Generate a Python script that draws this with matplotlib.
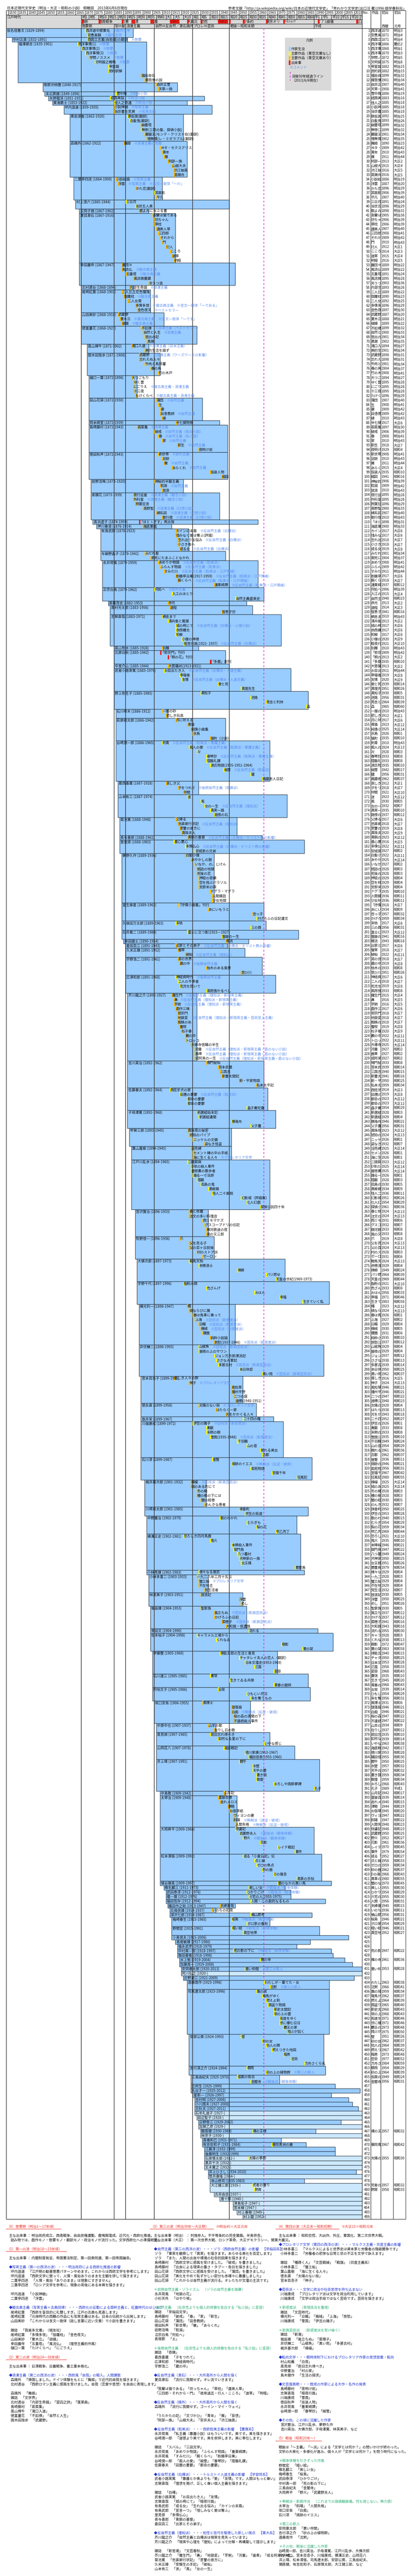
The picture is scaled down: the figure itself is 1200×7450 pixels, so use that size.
import matplotlib
matplotlib.use("Agg")
import matplotlib.pyplot as plt
from matplotlib.patches import Rectangle
from matplotlib.lines import Line2D
from matplotlib.transforms import Bbox, TransformedBbox

plt.rcParams['font.family'] = ['Noto Sans CJK JP', 'DejaVu Sans']

# ---------------------------------------------------------------- header data
TITLE = "日本近現代文学史（明治・大正・昭和の小説） 俯瞰図　2013年6月6日現在"
SOURCE = "参考文献「http://ja.wikipedia.org/wiki/日本の近現代文学史」「早わかり文学史(出口汪 著)1996 語学春秋社」"

YEAR_TICKS = list(range(1830, 2015, 5))

ERA_LABELS = ["明1", "明5", "明10", "明15", "明20", "明25", "明30", "明35", "明40",
              "大1", "大5", "大10", "昭1", "昭5", "昭10", "昭15", "昭20", "昭25",
              "昭30", "昭35", "昭40", "昭45", "昭50", "昭55", "昭60",
              "平1", "平5", "平10", "平15", "平20", "平25"]
ERA_STARTS = [1868, 1872, 1877, 1882, 1887, 1892, 1897, 1902, 1907,
              1912, 1916, 1921, 1926, 1930, 1935, 1940, 1945, 1950,
              1955, 1960, 1965, 1970, 1975, 1980, 1985,
              1989, 1993, 1998, 2003, 2008, 2013]

EVENT_LABELS = ["維新", "西南戦争", "立憲", "日清", "日露", "WW1", "大震災", "恐慌",
                "WW2", "", "サ条約", "東京オリ", "ｵｲﾙｼｮｯｸ", "ﾊﾞﾌﾞﾙ崩壊", "311"]
EVENT_START = [1868, 1877, 1889, 1894, 1904, 1914, 1923, 1930,
               1939, 1945.1, 1952, 1964, 1973, 1991, 2011]
EVENT_END = [1869, 1878, 1890, 1896, 1906, 1919, 1924, 1931,
             1944.5, 1945.7, 1953, 1965, 1974, 1992, 2012]

PERIOD_LABELS = ["啓蒙期", "写⇔擬古", "浪漫主義", "自然⇔反自然／漱石鴎外",
                 "プロレ⇔芸術", "戦後～昭和末期", "平成"]
PERIOD_BOUNDS = [1868, 1885, 1891, 1906, 1926, 1945, 1989, 2014.05]
DIVIDERS = [1868, 1885, 1891, 1906, 1926, 1945]
FIFTY_YEAR_LINE = 1963

# ---------------------------------------------------------------- authors
AUTHORS = [
    "仮名垣魯文", "中村正直", "福澤諭吉", "塚原渋柿園", "末広鉄腸", "矢野龍渓", "東海散士", "坪内逍遥", "黒岩涙香", "森鴎外",
    "二葉亭四迷", "村上浪六", "正岡子規", "夏目漱石", "幸田露伴", "北村透谷", "尾崎紅葉", "山田美妙", "徳冨蘆花", "高山樗牛",
    "国木田独歩", "樋口一葉", "田山花袋", "岡本綺堂", "島崎藤村", "徳田秋声", "岩野泡鳴", "泉鏡花", "高浜虚子", "押川春浪",
    "有島武郎", "与謝野晶子", "永井荷風", "正宗白鳥", "斎藤茂吉", "高村光太郎", "志賀直哉", "若山牧水", "北原白秋", "中里介山",
    "武者小路実篤", "野上弥生子", "石川啄木", "萩原朔太郎", "谷崎潤一郎", "葛西善蔵", "山本有三", "菊池寛", "長与善郎", "里見弴",
    "夢野久作", "室生犀星", "久保田万太郎", "白井喬二", "岸田國士", "倉田百三", "久米正雄", "宇野浩二", "広津和郎", "芥川龍之介",
    "吉川英治", "佐藤春夫", "子母澤寛", "甲賀三郎", "葉山嘉樹", "江戸川乱歩", "宮沢賢治", "牧野信一", "大佛次郎", "宇野千代",
    "横光利一", "井伏鱒二", "宮本百合子", "徳永直", "壺井栄", "川端康成", "石川淳", "梶井基次郎", "川崎長太郎", "中野重治",
    "横溝正史", "小林秀雄", "小林多喜二", "林芙美子", "堀辰雄", "幸田文", "佐多稲子", "伊藤整", "石川達三", "円地文子",
    "坂口安吾", "中原中也", "高見順", "山岡荘八", "井上靖", "中島敦", "太宰治", "大岡昇平", "松本清張", "埴谷雄高",
    "椎名麟三", "武田泰淳", "檀一雄", "福田恆存", "織田作之助", "北條民雄", "深沢七郎", "梅崎春生", "野間宏", "小島信夫",
    "島尾敏雄", "福永武彦", "中村真一郎", "堀田善衛", "水上勉", "加藤周一", "安岡章太郎", "阿川弘之", "庄野潤三", "遠藤周作",
    "司馬遼太郎", "安部公房", "吉行淳之介", "三島由紀夫", "辻邦生", "丸谷才一", "星新一", "吉村昭", "小川国夫", "北杜夫",
    "石牟礼道子", "田辺聖子", "日野啓三", "加賀乙彦", "開高健", "林京子", "高橋和巳", "有吉佐和子", "江藤淳", "後藤明生",
    "石原慎太郎", "黒井千次", "五木寛之", "井上ひさし", "筒井康隆", "寺山修司", "大江健三郎", "古井由吉", "唐十郎", "津島佑子",
    "宮本輝", "村上春樹", "村上龍",
]
BORN = [
    1829, 1832, 1835, 1848, 1849, 1851, 1853, 1859, 1862, 1862,
    1864, 1865, 1867, 1867, 1867, 1868, 1868, 1868, 1868, 1871,
    1871, 1872, 1872, 1872, 1872, 1872, 1873, 1873, 1874, 1876,
    1878, 1878, 1879, 1879, 1882, 1883, 1883, 1885, 1885, 1885,
    1885, 1885, 1886, 1886, 1886, 1887, 1887, 1888, 1888, 1888,
    1889, 1889, 1889, 1889, 1890, 1891, 1891, 1891, 1891, 1892,
    1892, 1892, 1892, 1893, 1894, 1894, 1896, 1896, 1897, 1897,
    1898, 1898, 1899, 1899, 1899, 1899, 1899, 1901, 1901, 1902,
    1902, 1902, 1903, 1903, 1904, 1904, 1904, 1905, 1905, 1905,
    1906, 1907, 1907, 1907, 1907, 1909, 1909, 1909, 1909, 1909,
    1911, 1912, 1912, 1912, 1913, 1914, 1914, 1915, 1915, 1915,
    1917, 1918, 1918, 1918, 1919, 1919, 1920, 1920, 1921, 1923,
    1923, 1924, 1924, 1925, 1925, 1925, 1926, 1927, 1927, 1927,
    1927, 1928, 1929, 1929, 1930, 1930, 1931, 1931, 1932, 1932,
    1932, 1932, 1932, 1934, 1934, 1935, 1935, 1937, 1940, 1947,
    1947, 1949, 1952,
]
DIED = [
    1894, 1891, 1901, 1917, 1896, 1931, 1922, 1935, 1920, 1922,
    1909, 1944, 1902, 1916, 1947, 1894, 1903, 1910, 1927, 1902,
    1908, 1896, 1930, 1939, 1943, 1943, 1920, 1939, 1959, 1914,
    1923, 1942, 1959, 1962, 1953, 1956, 1971, 1928, 1942, 1944,
    1976, 1985, 1912, 1942, 1965, 1928, 1974, 1948, 1961, 1983,
    1936, 1962, 1963, 1980, 1954, 1943, 1952, 1961, 1968, 1927,
    1962, 1964, 1968, 1945, 1945, 1965, 1933, 1936, 1973, 1996,
    1947, 1993, 1951, 1958, 1967, 1972, 1987, 1932, 1985, 1979,
    1981, 1983, 1933, 1951, 1953, 1990, 1998, 1969, 1985, 1986,
    1955, 1937, 1965, 1978, 1991, 1942, 1948, 1988, 1992, 1997,
    1973, 1976, 1976, 1994, 1947, 1937, 1987, 1965, 1991, 2006,
    1986, 1979, 1997, 1998, 2004, 2008, 2013, None, 2009, 1996,
    1996, 1993, 1994, 1970, 1999, 2012, 1997, 2006, 2008, 2011,
    None, None, 2002, None, 1989, None, 1971, 1984, 1999, 1999,
    None, None, None, 2010, None, 1983, None, None, None, None,
    None, None, None,
]

# ---------------------------------------------------------------- works (one list per author)
WORK_TITLES = [
    ["西洋道中膝栗毛", "安愚楽鍋"],
    ["西国立志篇(自助論)の翻訳"],
    ["西洋事情(1)", "西洋事情(2)", "西洋事情(3)", "学問ノススメ", "文明論之概略", "帝室論", "民約訳解", "福翁自伝", "瘠我慢の説"],
    ["由井正雪", "天草一揆"],
    ["雪中梅"],
    ["経国美談"],
    ["佳人之奇遇"],
    ["小説神髄", "当世書生気質"],
    ["鉄仮面(翻訳)", "白髪鬼(翻訳)", "幽霊塔", "無惨(三筋の髪、探偵小説)", "巌窟王(モンテ・クリスト伯)(翻訳)", "噫無情(レ・ミゼラブル)(翻訳)"],
    ["舞姫", "ヰタ・セクスアリス", "青年", "雁", "阿部一族", "山椒大夫", "渋江抽斎", "高瀬舟"],
    ["小説総論", "浮雲", "かた恋(翻訳)", "其面影", "平凡"],
    ["三日月", "当世五人男"],
    ["歌よみに与ふる書"],
    ["吾輩は猫である", "坊ちゃん", "草枕", "虞美人草", "三四郎", "それから", "門", "行人", "こころ", "道草", "明暗"],
    ["露団々", "風流仏", "五重塔", "風流微塵蔵", "天うつ浪"],
    ["内部生命論"],
    ["二人比丘尼色懺悔", "伽羅枕", "二人女房", "多情多恨", "金色夜叉"],
    ["武蔵野", "夏木立", "蝴蝶"],
    ["不如帰", "自然と人生", "思出の記", "黒潮"],
    ["滝口入道", "美的生活を論ず"],
    ["武蔵野", "忘れえぬ人々", "牛肉と馬鈴薯", "春の鳥", "竹の木戸"],
    ["大つごもり", "ゆく雲", "にごりえ", "十三夜", "たけくらべ"],
    ["蒲団", "生", "妻", "田舎教師", "縁"],
    ["半七捕物帳"],
    ["若菜集", "破戒", "春", "家", "新生", "夜明け前"],
    ["新世帯", "足跡", "黴", "あらくれ", "仮装人物", "縮図"],
    ["神秘的半獣主義", "耽溺", "放浪"],
    ["夜行巡査", "外科室", "照葉狂言", "高野聖", "婦系図", "歌行燈"],
    ["「ほとゝぎす」再出発"],
    ["海底軍艦"],
    ["カインの末裔", "惜みなく愛は奪ふ(評論)", "生れ出づる悩み", "小さき者へ", "或る女"],
    ["みだれ髪", "君死にたまふことなかれ"],
    ["あめりか物語", "ふらんす物語", "すみだ川", "断腸亭日乗(1917-1959)", "腕くらべ", "濹東綺譚"],
    ["何処へ", "入江のほとり", "自然主義盛衰史"],
    ["赤光"],
    ["道程", "智恵子抄"],
    ["網走まで", "清兵衛と瓢箪", "城の崎にて", "赤西蠣太", "和解", "小僧の神様", "暗夜行路(1921- 1937)"],
    ["別離"],
    ["「邪宗門」刊行", "「桐の花」刊行", "「多磨」創刊"],
    ["大菩薩峠(1913-1921)"],
    ["お目出たき人", "幸福者", "友情", "愛と死", "真理先生"],
    ["真知子", "迷路", "秀吉と利休", "森"],
    ["一握の砂", "悲しき玩具"],
    ["月に吠える", "青猫", "純情小曲集", "氷島", "猫町（小説）"],
    ["刺青", "痴人の愛", "卍", "春琴抄", "陰翳礼讃", "源氏物語(1935-1951-1964)", "細雪", "鍵", "瘋癲老人日記"],
    ["哀しき父", "子をつれて", "仲間"],
    ["波", "風", "女の一生", "真実一路", "路傍の石"],
    ["父帰る", "忠直卿行状記", "恩讐の彼方に", "真珠夫人"],
    ["青銅の基督"],
    ["善心悪心", "多情仏心", "安城家の兄弟"],
    ["白髪小僧", "あやかしの鼓", "いなか、の、じけん", "瓶詰の地獄", "死後の恋", "押絵の奇蹟", "空を飛ぶパラソル", "支那米の袋", "ドグラ・マグラ", "人間腸詰", "少女地獄"],
    ["「抒情小曲集」刊行", "あにいもうと", "杏っ子", "かげろふの日記遺文"],
    ["末枯", "三の酉"],
    ["富士に立つ影(1923－1927)", "盤嶽の一生"],
    ["暖流"],
    ["出家とその弟子"],
    ["螢草", "破船"],
    ["苦の世界", "蔵の中", "枯木のある風景", "思ひ川"],
    ["神経病時代", "二人の不幸者", "死児を抱いて", "風雨強かるべし"],
    ["羅生門", "鼻", "芋粥", "戯作三昧", "邪宗門", "地獄変", "蜘蛛の糸", "蜜柑", "杜子春", "藪の中", "トロッコ", "大導寺信輔の半生", "河童", "歯車", "或阿呆の一生"],
    ["鳴門秘帖", "宮本武蔵", "三国志", "新書太閤記", "新・平家物語", "私本太平記"],
    ["西班牙犬の家", "田園の憂鬱", "都会の憂鬱", "都会の憂鬱", "晶子曼陀羅"],
    ["新選組始末記", "新選組遺聞", "勝海舟", "父子鷹"],
    ["真珠塔の秘密", "琥珀のパイプ", "ニッケルの文鎮", "姿なき怪盗"],
    ["淫売婦", "セメント樽の中の手紙", "海に生くる人々"],
    ["二銭銅貨", "D坂の殺人事件", "屋根裏の散歩者", "踊る一寸法師", "陰獣", "孤島の鬼", "黒蜥蜴", "怪人二十面相", "幻影城（評論集）", "化人幻戯", "探偵小説四十年"],
    ["春と修羅", "注文の多い料理店", "雨ニモマケズ", "グスコーブドリの伝記", "銀河鉄道の夜", "風の又三郎"],
    ["爪", "父を売る子", "父の百ヶ日前後", "村のストア派", "ゼーロン"],
    ["鞍馬天狗", "赤穂浪士", "帰郷", "パリ燃ゆ", "天皇の世紀(1969-1973)"],
    ["脂粉の顔", "色ざんげ", "おはん", "幸福", "生きていく私"],
    ["蠅", "頭ならびに腹", "春は馬車に乗って", "上海", "日輪", "機械", "寝園", "純粋小説論", "旅愁(1937-1946)"],
    ["山椒魚", "屋根の上のサワン", "ジョン万次郎漂流記", "さざなみ軍記", "多甚古村", "本日休診", "黒い雨"],
    ["貧しき人々の群", "伸子", "風知草", "播州平野", "二つの庭", "道標(1948-1951)"],
    ["太陽のない街", "はたらく一家", "光をかかぐる人々"],
    ["二十四の瞳"],
    ["伊豆の踊子", "禽獣", "末期の眼", "雪国(1935-1948)", "千羽鶴", "山の音", "眠れる美女", "古都"],
    ["普賢", "焼跡のイエス", "紫苑物語", "至福千年", "狂風記"],
    ["檸檬", "城のある町にて", "冬の蠅", "櫻の樹の下には", "闇の絵巻", "のんきな患者"],
    ["抹香町", "伊豆の街道"],
    ["歌のわかれ", "むらぎも", "梨の花", "甲乙丙丁"],
    ["恐ろしき四月馬鹿", "鬼火", "本陣殺人事件", "獄門島", "八つ墓村", "犬神家の一族", "女王蜂", "悪霊島"],
    ["様々なる意匠"],
    ["一九二八年三月十五日", "蟹工船", "不在地主", "党生活者"],
    ["放浪記", "浮雲", "めし"],
    ["聖家族", "風立ちぬ", "かげろふの日記", "菜穂子", "大和路・信濃路"],
    ["流れる"],
    ["キャラメル工場から", "くれなゐ", "樹影", "夏の栞"],
    ["得能五郎の生活と意見", "チャタレイ夫人の恋人（翻訳）", "日本文壇史(1953-1969)", "氾濫", "変容"],
    ["蒼氓", "生きてゐる兵隊", "青春の蹉跌"],
    ["女坂", "ひもじい月日", "朱を奪うもの"],
    ["風博士", "堕落論", "白痴", "桜の森の満開の下", "不連続殺人事件"],
    ["山羊の歌", "在りし日の歌"],
    ["故旧忘れ得べき", "如何なる星の下に", "いやな感じ"],
    ["海底戦記", "徳川家康(1953-1967)", "織田信長(1955-1960)"],
    ["闘牛", "氷壁", "天平の甍", "蒼き狼", "敦煌", "おろしや国酔夢譚", "孔子"],
    ["山月記"],
    ["富嶽百景", "走れメロス", "津軽", "お伽草紙", "ヴィヨンの妻", "斜陽", "人間失格"],
    ["俘虜記", "武蔵野夫人", "野火", "花影", "レイテ戦記", "事件"],
    ["或る「小倉日記」伝", "点と線", "ゼロの焦点", "砂の器", "Dの複合", "黒革の手帖"],
    ["闇のなかの黒い馬"],
    ["美しい女"],
    ["ひかりごけ"],
    ["火宅の人(1955-1975)"],
    ["人間・この劇的なるもの"],
    ["夫婦善哉"],
    ["いのちの初夜"],
    ["楢山節考"],
    ["桜島", "ボロ家の春秋"],
    ["暗い絵", "真空地帯"],
    [], [], [],
    ["死の影の下に"],
    [],
    ["雁の寺"],
    [],
    ["悪い仲間"],
    [], [],
    ["わたしが・棄てた・女", "沈黙"],
    ["梟の城", "竜馬がゆく", "燃えよ剣", "国盗り物語", "新史太閤記", "坂の上の雲", "街道をゆく", "世に棲む日日", "覇王の家", "翔ぶが如く"],
    ["壁", "砂の女", "他人の顔", "燃えつきた地図", "箱男", "密会", "方舟さくら丸"],
    ["驟雨", "砂の上の植物群"],
    ["仮面の告白", "金閣寺"],
    [], [], [], [], [], [], [], [], [], [],
    ["裸の王様"],
    [], [],
    ["華岡青洲の妻"],
    [], [],
    ["太陽の季節"],
    [], [], [], [], [],
    ["死者の奢り", "飼育"],
    [], [], [], [], [], [],
]

WORK_YEARS = [
    [1870, 1871],
    [1871],
    [1866, 1868, 1870, 1872, 1875, 1882, 1882, 1899, 1901],
    [1907, 1908],
    [1886],
    [1883],
    [1885],
    [1885, 1885],
    [1892, 1893, 1899, 1899, 1901, 1902],
    [1890, 1909, 1910, 1911, 1913, 1915, 1916, 1916],
    [1886, 1887, 1896, 1906, 1907],
    [1891, 1896],
    [1898],
    [1905, 1906, 1906, 1907, 1908, 1909, 1910, 1912, 1914, 1915, 1916],
    [1889, 1889, 1891, 1895, 1903],
    [1893],
    [1889, 1890, 1892, 1896, 1897],
    [1887, 1888, 1889],
    [1899, 1900, 1901, 1902],
    [1894, 1901],
    [1898, 1898, 1901, 1904, 1908],
    [1894, 1895, 1895, 1895, 1896],
    [1907, 1908, 1909, 1909, 1910],
    [1917],
    [1897, 1906, 1908, 1910, 1918, 1929],
    [1908, 1910, 1911, 1915, 1935, 1941],
    [1906, 1909, 1910],
    [1895, 1895, 1896, 1900, 1907, 1910],
    [1898],
    [1900],
    [1917, 1917, 1918, 1918, 1919],
    [1901, 1904],
    [1908, 1909, 1911, 1917, 1918, 1937],
    [1906, 1915, 1948],
    [1913],
    [1914, 1941],
    [1910, 1913, 1917, 1917, 1917, 1920, 1921],
    [1910],
    [1909, 1913, 1935],
    [1913],
    [1911, 1919, 1920, 1939, 1951],
    [1930, 1956, 1964, 1985],
    [1910, 1912],
    [1917, 1923, 1925, 1926, 1935],
    [1910, 1924, 1928, 1933, 1933, 1935, 1942, 1956, 1962],
    [1912, 1918, 1921],
    [1923, 1930, 1932, 1935, 1937],
    [1917, 1918, 1919, 1920],
    [1923],
    [1916, 1922, 1927],
    [1922, 1925, 1927, 1928, 1928, 1929, 1929, 1929, 1935, 1936, 1936],
    [1918, 1934, 1957, 1959],
    [1917, 1956],
    [1923, 1941],
    [1943],
    [1917],
    [1918, 1922],
    [1918, 1919, 1933, 1951],
    [1917, 1918, 1919, 1933],
    [1915, 1916, 1916, 1917, 1918, 1918, 1918, 1919, 1920, 1922, 1922, 1925, 1927, 1927, 1927],
    [1933, 1939, 1940, 1941, 1950, 1959],
    [1914, 1919, 1923, 1923, 1954],
    [1928, 1929, 1946, 1956],
    [1923, 1924, 1926, 1932],
    [1925, 1926, 1926],
    [1923, 1925, 1925, 1926, 1928, 1930, 1934, 1936, 1951, 1954, 1961],
    [1924, 1924, 1931, 1932, 1933, 1933],
    [1919, 1924, 1924, 1928, 1931],
    [1924, 1929, 1949, 1964, 1969],
    [1921, 1933, 1958, 1971, 1983],
    [1923, 1924, 1926, 1927, 1929, 1930, 1931, 1935, 1937],
    [1929, 1929, 1937, 1938, 1939, 1950, 1962],
    [1916, 1924, 1946, 1946, 1947, 1948],
    [1929, 1938, 1943],
    [1952],
    [1926, 1933, 1933, 1935, 1949, 1954, 1961, 1962],
    [1936, 1946, 1956, 1967, 1980],
    [1925, 1925, 1928, 1928, 1930, 1932],
    [1950, 1953],
    [1940, 1954, 1959, 1969],
    [1921, 1935, 1946, 1947, 1949, 1950, 1951, 1979],
    [1929],
    [1928, 1929, 1929, 1932],
    [1930, 1950, 1951],
    [1930, 1937, 1937, 1941, 1943],
    [1955],
    [1928, 1938, 1972, 1983],
    [1940, 1950, 1953, 1958, 1968],
    [1935, 1945, 1968],
    [1939, 1954, 1956],
    [1931, 1946, 1946, 1947, 1947],
    [1934, 1937],
    [1935, 1939, 1963],
    [1942, 1953, 1955],
    [1950, 1957, 1957, 1959, 1959, 1968, 1989],
    [1942],
    [1939, 1940, 1944, 1945, 1947, 1947, 1948],
    [1948, 1950, 1952, 1961, 1970, 1979],
    [1952, 1958, 1959, 1962, 1968, 1980],
    [1970],
    [1955],
    [1954],
    [1955],
    [1956],
    [1940],
    [1936],
    [1956],
    [1946, 1954],
    [1946, 1952],
    [], [], [],
    [1947],
    [],
    [1961],
    [],
    [1953],
    [], [],
    [1963, 1966],
    [1959, 1962, 1964, 1965, 1968, 1968, 1971, 1971, 1973, 1975],
    [1951, 1962, 1964, 1967, 1973, 1977, 1984],
    [1954, 1964],
    [1949, 1956],
    [], [], [], [], [], [], [], [], [], [],
    [1957],
    [], [],
    [1967],
    [], [],
    [1955],
    [], [], [], [], [],
    [1957, 1958],
    [], [], [], [], [], [],
]

# y = 青空文庫なし, o = 青空文庫あり, r = 出来事
WORK_TONES = [
    "yy", "y", "yyyoyyyoo", "oo", "y", "y", "y", "oo", "yyoyoo", "oooooooo",
    "oooyo", "yy", "o", "ooooooooooo", "ooooo", "o", "ooooo", "ooo", "oooo", "oo",
    "ooooo", "ooooo", "ooooo", "o", "oooooo", "oooooo", "ooo", "oooooo", "r", "o",
    "ooooo", "oo", "oooooo", "yyy", "o", "oo", "yyyyyyy", "o", "rrr", "o",
    "yyyyy", "yyyy", "oo", "ooooo", "yyyyyyyyy", "ooo", "yyyyy", "oooo", "o", "yyy",
    "ooooooooooo", "oooy", "yy", "yy", "o", "o", "oo", "oooo", "yyyy", "ooooooooooooooo",
    "oooooo", "yyyyy", "yyyy", "oooo", "ooo", "yyyyyyyyyyy", "oooooo", "ooooo", "yyyyy", "yyyyy",
    "ooooooooo", "yyyyyyy", "oooooo", "ooo", "y", "yyyyyyyy", "yyyyy", "oooooo", "yy", "yyyy",
    "yyyyyyyy", "y", "oooo", "ooo", "ooooo", "y", "yyyy", "yyyyy", "yyy", "yyy",
    "ooooo", "oo", "yyy", "yyy", "yyyyyyy", "o", "ooooooo", "yyyyyy", "yyyyyy", "y",
    "y", "y", "y", "y", "o", "o", "y", "yy", "yy", "",
    "", "", "y", "", "y", "", "y", "", "", "yy",
    "yyyyyyyyyy", "yyyyyyy", "yy", "yy", "", "", "", "", "", "",
    "", "", "", "", "y", "", "", "y", "", "",
    "y", "", "", "", "", "", "yy", "", "", "",
    "", "", "",
]

NOTES = {
    "仮名垣魯文/西洋道中膝栗毛": "※戯作文学", "仮名垣魯文/安愚楽鍋": "※戯作文学",
    "中村正直/西国立志篇(自助論)の翻訳": "※啓蒙",
    "福澤諭吉/西洋事情(1)": "※啓蒙", "福澤諭吉/西洋事情(2)": "※啓蒙", "福澤諭吉/西洋事情(3)": "※啓蒙",
    "福澤諭吉/学問ノススメ": "※啓蒙", "福澤諭吉/文明論之概略": "※啓蒙",
    "末広鉄腸/雪中梅": "※政治小説", "矢野龍渓/経国美談": "※政治小説", "東海散士/佳人之奇遇": "※政治小説",
    "坪内逍遥/小説神髄": "※写実主義", "坪内逍遥/当世書生気質": "※写実主義",
    "森鴎外/舞姫": "※浪漫主義の先駆",
    "二葉亭四迷/小説総論": "※写実主義", "二葉亭四迷/浮雲": "※写実主義　※言文一致体「～だ」",
    "幸田露伴/風流仏": "※擬古典主義", "幸田露伴/五重塔": "※擬古典主義",
    "北村透谷/内部生命論": "※浪漫主義",
    "尾崎紅葉/伽羅枕": "※擬古典主義", "尾崎紅葉/多情多恨": "※擬古典主義　※言文一致体「～である」",
    "尾崎紅葉/金色夜叉": "※ベストセラー",
    "山田美妙/夏木立": "※擬古典主義　※言文一致体「～です」", "山田美妙/蝴蝶": "※擬古典主義",
    "徳冨蘆花/不如帰": "※浪漫主義（ベストセラー）", "徳冨蘆花/自然と人生": "※浪漫主義",
    "高山樗牛/滝口入道": "※浪漫主義（日本主義）",
    "国木田独歩/武蔵野": "※浪漫主義（ワーズワースの影響）",
    "樋口一葉/にごりえ": "※擬古典主義・浪漫主義", "樋口一葉/たけくらべ": "※擬古典主義・浪漫主義",
    "田山花袋/蒲団": "※自然主義", "田山花袋/田舎教師": "※自然主義",
    "島崎藤村/若菜集": "※浪漫主義", "島崎藤村/破戒": "※自然主義（告白小説）",
    "島崎藤村/春": "※自然主義（私小説）", "島崎藤村/家": "※自然主義", "島崎藤村/新生": "※自然主義",
    "徳田秋声/新世帯": "※自然主義", "徳田秋声/黴": "※自然主義", "徳田秋声/あらくれ": "※自然主義",
    "岩野泡鳴/耽溺": "※自然主義",
    "泉鏡花/夜行巡査": "※浪漫主義（観念小説）", "泉鏡花/外科室": "※浪漫主義（観念小説）",
    "泉鏡花/高野聖": "※浪漫主義（幻想小説）", "泉鏡花/婦系図": "※浪漫主義（幻想小説）",
    "泉鏡花/歌行燈": "※浪漫主義（幻想小説）",
    "有島武郎/カインの末裔": "※反自然主義（白樺派）", "有島武郎/生れ出づる悩み": "※反自然主義（白樺派）",
    "有島武郎/或る女": "※反自然主義（白樺派）",
    "永井荷風/あめりか物語": "※反自然主義（耽美派）", "永井荷風/ふらんす物語": "※反自然主義（耽美派）",
    "永井荷風/すみだ川": "※反自然主義（耽美派・江戸情緒）",
    "永井荷風/断腸亭日乗(1917-1959)": "※反自然主義（耽美派・江戸情緒）",
    "永井荷風/腕くらべ": "※反自然主義（耽美派・江戸情緒）",
    "永井荷風/濹東綺譚": "※反自然主義（耽美派・江戸情緒）",
    "正宗白鳥/何処へ": "※自然主義",
    "志賀直哉/城の崎にて": "※反自然主義（白樺派・心境小説）",
    "志賀直哉/暗夜行路(1921- 1937)": "※反自然主義（白樺派）",
    "武者小路実篤/お目出たき人": "※反自然主義（白樺派・人道主義）",
    "武者小路実篤/友情": "※反自然主義（白樺派・人道主義）",
    "谷崎潤一郎/刺青": "※反自然主義（耽美派・悪魔主義）", "谷崎潤一郎/痴人の愛": "※反自然主義（耽美派・悪魔主義）",
    "谷崎潤一郎/春琴抄": "※反自然主義（耽美派・悪魔主義）", "谷崎潤一郎/細雪": "※反自然主義（耽美派）",
    "葛西善蔵/子をつれて": "※後期自然主義（奇蹟派）",
    "山本有三/女の一生": "※反自然主義（理知派）",
    "菊池寛/忠直卿行状記": "※反自然主義（理知派）",
    "長与善郎/青銅の基督": "※反自然主義（白樺派・キリスト教の影響）",
    "里見弴/多情仏心": "※反自然主義（白樺派・キリスト教の影響）",
    "倉田百三/出家とその弟子": "※反自然主義（白樺派・キリスト教の影響）",
    "久米正雄/破船": "※反自然主義（理知派）",
    "宇野浩二/蔵の中": "※後期自然主義",
    "広津和郎/神経病時代": "※後期自然主義",
    "芥川龍之介/羅生門": "※反自然主義（理知派・新現実主義）", "芥川龍之介/鼻": "※反自然主義（理知派・新現実主義）",
    "芥川龍之介/芋粥": "※反自然主義（理知派・新現実主義）",
    "芥川龍之介/地獄変": "※反自然主義（理知派・新現実主義・芸術至上主義）",
    "芥川龍之介/河童": "※反自然主義（理知派・新現実主義・筋のない小説）",
    "芥川龍之介/歯車": "※反自然主義（理知派・新現実主義・筋のない小説）",
    "芥川龍之介/或阿呆の一生": "※反自然主義（理知派・新現実主義・筋のない小説）",
    "佐藤春夫/田園の憂鬱": "※反自然主義（耽美派）",
    "葉山嘉樹/海に生くる人々": "※プロレタリア文学",
    "横光利一/上海": "※芸術派（新感覚派）", "横光利一/日輪": "※芸術派（新感覚派）",
    "横光利一/機械": "※芸術派（新感覚派）", "横光利一/旅愁(1937-1946)": "※芸術派（新感覚派）",
    "井伏鱒二/山椒魚": "※芸術派（新興芸術派）", "井伏鱒二/多甚古村": "※芸術派（新興芸術派）",
    "井伏鱒二/黒い雨": "※芸術派（新興芸術派）",
    "宮本百合子/伸子": "※プロレタリア文学", "徳永直/太陽のない街": "※プロレタリア文学",
    "川端康成/伊豆の踊子": "※芸術派（新感覚派）", "川端康成/雪国(1935-1948)": "※芸術派（新感覚派）",
    "石川淳/焼跡のイエス": "※無頼派（反逆・破戒）",
    "梶井基次郎/檸檬": "※芸術派（新興芸術派）",
    "小林多喜二/蟹工船": "※プロレタリア文学",
    "堀辰雄/風立ちぬ": "※芸術派（新興芸術派）", "堀辰雄/菜穂子": "※芸術派（新興芸術派）",
    "坂口安吾/白痴": "※無頼派（反逆・破戒）",
    "太宰治/斜陽": "※無頼派（反逆・破戒）", "太宰治/人間失格": "※無頼派（反逆・破戒）",
    "大岡昇平/武蔵野夫人": "※戦後派（戦争体験）", "大岡昇平/野火": "※戦後派（戦争体験）",
    "椎名麟三/美しい女": "※戦後派（戦争体験）", "武田泰淳/ひかりごけ": "※戦後派（戦争体験）",
    "梅崎春生/桜島": "※戦後派（戦争体験）", "野間宏/暗い絵": "※戦後派（戦争体験）",
    "中村真一郎/死の影の下に": "※戦後派（戦争体験）", "三島由紀夫/金閣寺": "※戦後派（戦争体験）",
    "安岡章太郎/悪い仲間": "※第三の新人", "遠藤周作/沈黙": "※第三の新人",
    "吉行淳之介/砂の上の植物群": "※第三の新人",
}

# ---------------------------------------------------------------- notes below the chart
COL1 = [
    "（0）啓蒙期（明治1～17年頃）", "",
    "主な出来事 ： 明治政府成立、西南戦争、自由民権運動、鹿鳴館落成、近代化・西欧化推進。",
    "読み物では、戯作モノ・啓蒙モノ・翻訳モノ・政治モノが流行った。文学西欧化への準備期間。", "",
    "（1）第一の波（明治18～23年頃）", "",
    "主な出来事 ： 内閣制度発足、帝国憲法制定、第一回衆院選、第一回帝国議会。", "",
    "◆写実主義（第一の西洋の波）・・・明治政府による西欧化推進の影響",
    "坪内逍遥　『江戸期の勧善懲悪パターンやめます。これからは西欧文学を参考にします』",
    "坪内逍遥　『西欧文学に倣って、人情・風俗ありのままを主観を排して描きます』",
    "二葉亭四迷　『人情・風俗「ありのまま」は現象にすぎません』",
    "二葉亭四迷　『ロシア文学を参考に、現象の背後にある本質を描きます』", "",
    "坪内逍遥　「小説神髄」", "二葉亭四迷　「浮雲」", "",
    "◆擬古典主義（写実主義＋古典回帰）・・・西欧化の反動による国粋主義と、紅露時代のはじまり",
    "尾崎紅葉　『西欧を盲目的に礼賛しすぎ。江戸の古典も見直します』",
    "尾崎紅葉　『元禄時代の西鶴の作品にも写実主義はある。日本の伝統から出発します』",
    "山田美妙　『これからは言文一致体（話し言葉に近い文章）で小説を書きます』", "",
    "雑誌　「我楽多文庫」（硯友社）", "尾崎紅葉　「多情多恨」「伽羅枕」「金色夜叉」",
    "山田美妙　「夏木立」「胡蝶」", "幸田露伴　「五重塔」「風流仏」　（理想主義的作風）",
    "樋口一葉　「たけくらべ」「にごりえ」", "",
    "（2）第二の波（明治24～38年頃）", "",
    "主な出来事 ： 日清戦争、日露戦争、重工業本格化。", "",
    "◆浪漫主義（第二の西洋の波）・・・西欧風「自我」の輸入。人間讃歌",
    "森鴎外　『帰国しました。ドイツ体験をもとに「舞姫」で近代的自我を描きます』",
    "北村透谷　『西欧ロマン主義に感銘を受けました。自我（恋愛や思想）を自由に表現します』", "",
    "森鴎外　「舞姫」", "雑誌　「文学界」", "北村透谷　「内部生命論」「楚囚之詩」「蓬莱曲」",
    "島崎藤村　「若菜集」", "高山樗牛　「滝口入道」", "徳冨蘆花　「不如帰」「自然と人生」",
    "国木田独歩　「武蔵野」",
]
COL2 = [
    "（3）第三の波（明治39年～大正期）|※明治45＝大正元年", "",
    "主な出来事（明治） ： 列強参入。不平等条約の完全撤廃。半島併合。",
    "主な出来事（大正） ： 第一次世界大戦、ロシア革命、大正デモクラシー、関東大震災。", "",
    "◆自然主義（第三の西洋の波）・・・ゾラ（西欧自然主義）の影響　【早稲田系】",
    "ゾラ　『事実を観察して「真実」を描きます。あらゆる美化を否定します』",
    "ゾラ　『また、人間の出自や環境の社会的因果を描きます』",
    "島崎藤村　『西欧文学に感銘を受けました。「破戒」を書きました』",
    "島崎藤村　『出自による現実の重さ・タブー・告白を描きました』",
    "田山花袋　『西欧文学にに感銘を受けました。「蒲団」を書きました』",
    "田山花袋　『美化をやめて恥ずかしい部分も赤裸々に暴露しました』",
    "田山花袋　『これからは自然主義が流行る。オレたちが文壇の主流です』", "",
    "＊前期自然主義・ゾライズム　（ゾラの自然主義を踏襲）",
    "永井荷風　「地獄の花」", "小杉天外　「はやり唄」", "",
    "＊自然主義　（社会性よりも個人的体験を告白する「私小説」に変容）",
    "雑誌　「早稲田文学」", "島崎藤村　「破戒」「春」「家」「新生」", "田山花袋　「蒲団」「田舎教師」",
    "徳田秋声　「新世帯」「黴」「あらくれ」", "岩野泡鳴　「耽溺」", "正宗白鳥「何処へ」", "長塚節　「土」", "",
    "＊後期自然主義　（社会性よりも個人的体験を告白する「私小説」に変容）",
    "雑誌　「奇蹟」", "葛西善蔵　「子をつれて」", "広津和郎　「神経病時代」", "宇野浩二　「蔵の中」", "",
    "◆反自然主義（漱石）・・・大所高所から人間を描く",
    "夏目漱石　『流行に我関せず。オレ流でいきます』", "",
    "「我輩は猫である」「坊っちゃん」「草枕」「虞美人草」",
    "「三四郎・それから・門」「彼岸過迄・行人・こころ」「道草」「明暗」", "",
    "◆反自然主義（鴎外）・・・大所高所から人間を描く",
    "森鴎外　『流行に我関せず。ゴーイン・マイ・ウェイ』", "",
    "「うたかたの記」「文づかひ」「青年」「雁」「妄想」",
    "「阿部一族」「山椒大夫」「安井夫人」「渋江抽斎」", "",
    "◆反自然主義（耽美派）・・・西欧耽美主義の影響　【慶應系】",
    "永井荷風　『私主義（暴露小説）はもういいです。美です。美を描きます』",
    "谷崎潤一郎　『道徳より美です。美を崇拝します。美に奉仕します』", "",
    "雑誌　「スバル」「三田文学」",
    "永井荷風　「あめりか物語」「ふらんす物語」「墨東綺譚」",
    "永井荷風　「すみだ川」「腕くらべ」「断腸亭日乗」",
    "谷崎潤一郎　「痴人の愛」「細雪」「春琴抄」「陰翳礼讃」",
    "佐藤春夫　「田園の憂鬱」「都会の憂鬱」", "",
    "◆反自然主義（白樺派）・・・トルストイ人道主義の影響　【学習院系】",
    "武者小路実篤　『暴露とか美よりも「愛」「友情」です。人間はもっと尊い』",
    "志賀直哉　『理想を掲げ、正しく尊い個人主義を描きます』", "",
    "雑誌　「白樺」", "武者小路実篤　「お目出たき人」「友情」", "志賀直哉　「城の崎にて」「暗夜行路」",
    "有島武郎　「或る女」「生れ出る悩み」「カインの末裔」", "有島武郎　「宣言一つ」「惜しみなく愛は奪ふ」",
    "里見弴　「多情仏心」", "長与善郎　「青銅の基督」", "倉田百三　「出家とその弟子」", "",
    "◆反自然主義（理知派）・・・知性と技巧を駆使した新しい視点　【東大系】",
    "芥川龍之介　『自然主義と白樺派は現実を見失っています』",
    "芥川龍之介　『現実や心理を「理知」によって分解・再構築して提示します』", "",
    "雑誌　「新思潮」「文芸春秋」",
    "芥川龍之介　「羅生門」「鼻」「地獄変」「芋粥」「河童」「歯車」「或る阿呆の一生」",
    "菊池寛　「忠直卿行状記」「恩讐の彼方に」", "久米正雄　「受験生の手記」「破船」",
    "山本有三　「波」「風」「女の一生」",
]
COL3 = [
    "（4）第四の波（大正末～昭和初期）|※大正15＝昭和元年", "",
    "主な出来事 ： 昭和恐慌、大凶作、外圧、軍国化、第二次世界大戦。", "",
    "◆プロレタリア文学（第四の西洋の波）・・・マルクス主義・共産主義の影響",
    "小林多喜二　『マルクスによると世界史は資本家と労働者の階級闘争です』",
    "小林多喜二　『労働者の悲惨な日常と世の不正を文学で訴えます』", "",
    "雑誌　「種蒔く人」「文芸戦線」「戦旗」（共産主義系）",
    "小林多喜二　「蟹工船」", "葉山嘉樹　「海に生くる人々」", "徳永直　「太陽のない街」",
    "宮本百合子　「伸子」", "",
    "◆芸術派・・・文学に政治や社会思想を持ち込まない",
    "川端康成　『プロレタリア派は文学を政治利用しています』",
    "川端康成　『文学は政治手段ではなく芸術です。芸術を描きます』", "",
    "＊新感覚派　（表現技法を重視）", "雑誌　「文芸時代」",
    "横光利一　「日輪」「機械」「上海」「旅愁」", "川端康成　「雪国」「伊豆の踊子」", "",
    "＊新興芸術派　（新感覚派を受け継ぐ）", "雑誌　「新潮」", "堀辰雄　「風立ちぬ」「菜穂子」",
    "井伏鱒二　「山椒魚」「黒い雨」「多甚古村」", "梶井基次郎　「檸檬」", "",
    "◆転向文学・・・戦時体制下におけるプロレタリア作家の思想放棄・転向",
    "村山知義　「白夜」", "高見順　「故旧忘れ得べき」", "中野重治　「村の家」", "島木健作　「生活の探求」", "",
    "◆文芸復興期・・・既成の作家による大作・名作の発表",
    "島崎藤村　「夜明け前」", "志賀直哉　「暗夜行路」", "川端康成　「雪国」", "徳田秋声　「仮装人物」",
    "永井荷風　「墨東綺譚」", "谷崎潤一郎　「春琴抄」「細雪」", "",
    "◆その他、この頃に活躍した作家",
    "宮沢賢治、江戸川乱歩、夢野久作", "吉川英治、大佛次郎、子母澤寛、林芙美子、など", "",
    "（5）戦後（昭和20年～）", "",
    "戦後は「～主義」「～派」による「文学とは何か？」の問いかけが終わった。",
    "文学の大衆化・多様化が進み、個々人が「文学とは何か？」を問う時代になった。", "",
    "＊戦争体験を引きずった作風",
    "野間宏　「暗い絵」", "椎名麟三　「美しい女」", "梅崎春生　「桜島」", "武田泰淳　「ひかりごけ」",
    "中村真一郎　「死の影の下に」", "三島由紀夫　「金閣寺」", "大岡昇平　「野火」「武蔵野夫人」", "",
    "＊無頼派・新戯作派　（これまでの価値観崩壊。何も信じない。無力感）",
    "太宰治　「斜陽」「人間失格」", "坂口安吾　「白痴」", "石川淳　「焼跡のイエス」", "",
    "＊第三の新人",
    "安岡章太郎　「悪い仲間」", "吉行淳之介　「砂の上の植物群」", "遠藤周作　「沈黙」", "",
    "＊その他、戦後に活躍した作家",
    "谷崎潤一郎、吉川英治、子母澤寛、江戸川乱歩、大佛次郎",
    "井伏鱒二、宮本百合子、川端康成、横溝正史、山岡荘八",
    "井上靖、松本清張、司馬遼太郎、安部公房、三島由紀夫、",
    "開高健、有吉佐和子、石原慎太郎、大江健三郎、など",
]

# ---------------------------------------------------------------- style
FS = 7.3
BOX_C = '#99CCFF'
LIVE_C = '#CCE8FF'
EDGE_C = '#1E2B3A'
GRAY = '#D9D9D9'
TONE_C = {'y': '#FFFF00', 'o': '#FFC000', 'r': '#E8231B'}
NOTE_C = '#5B8DEF'
LINE_C = '#3A3A3A'
MAGENTA = '#E020E0'
HEAD_RED = '#E8332A'
HEAD_BLUE = '#2337D0'
HEAD_GREEN = '#2FAF78'
TXT = '#111111'

PX_W, PX_H = 1200, 7450
TOP, BOT = 30.05, 6418.0
X_LEFT, X_RIGHT = 1828.9, 2014.05


def era_name(y):
    if y >= 1989:
        return f"平成{y - 1988}"
    if y >= 1926:
        return f"昭和{y - 1925}"
    if y >= 1912:
        return f"大正{y - 1911}"
    if y >= 1868:
        return f"明治{y - 1867}"
    return f"慶応{y - 1864}"


def fig_rect(x0, y0, x1, y1):
    return [x0 / PX_W, 1 - y1 / PX_H, (x1 - x0) / PX_W, (y1 - y0) / PX_H]


n_rows = sum(max(1, len(w)) for w in WORK_TITLES)
row_px = (BOT - TOP) / (n_rows + 4)

fig = plt.figure(figsize=(12, 74.5), dpi=100)
fig.patch.set_facecolor('white')

ax = fig.add_axes(fig_rect(17.6, TOP, 1047, BOT))
ax.set_xlim(X_LEFT, X_RIGHT)
ax.set_ylim(n_rows, -4)
ax.axis('off')

tx = fig.add_axes(fig_rect(1047, TOP, 1173.3, BOT))
tx.set_xlim(0, 126.3)
tx.set_ylim(n_rows, -4)
tx.axis('off')


def clipped_text(a, x, y, s, x0, x1, y0, y1, **kw):
    t = a.text(x, y, s, clip_on=True, **kw)
    t.set_clip_box(TransformedBbox(Bbox([[x0, y0], [x1, y1]]), a.transData))
    return t


# ---- header: years
ax.hlines([-4, -3], X_LEFT, X_RIGHT, color='black', lw=0.8, clip_on=False)
ax.vlines(YEAR_TICKS, -4, -3, color='black', lw=0.8)
for yr in YEAR_TICKS:
    clipped_text(ax, yr + 0.25, -3.5, str(yr), yr, min(yr + 5, X_RIGHT), -4, -3,
                 fontsize=FS, va='center', ha='left', color=TXT)

# ---- header: eras, events, periods
ax.add_patch(Rectangle((X_LEFT, -3), 1868 - X_LEFT, 3, fc=GRAY, ec='black', lw=0.8))
ax.text(X_LEFT + 0.5, -2.5, "江戸時代", fontsize=FS, va='center', color=TXT)
ax.add_patch(Rectangle((1868, -3), X_RIGHT - 1868, 1, fc=GRAY, ec='black', lw=0.8))
ax.vlines(ERA_STARTS, -3, -2, color='black', lw=0.8)
era_ends = ERA_STARTS[1:] + [X_RIGHT]
for lab, s, e in zip(ERA_LABELS, ERA_STARTS, era_ends):
    clipped_text(ax, s + 0.4, -2.5, lab, s, e, -3, -2, fontsize=FS, va='center', color=TXT)

ax.add_patch(Rectangle((1868, -2), X_RIGHT - 1868, 1, fc=GRAY, ec='black', lw=0.8))
ax.vlines([1945, 1989], -2, -1, color='black', lw=0.8)
for lab, s, e in zip(EVENT_LABELS, EVENT_START, EVENT_END):
    ax.add_patch(Rectangle((s, -1.93), e - s, 0.86, fc=TONE_C['r'], ec='none', zorder=3))
    if lab.startswith("WW"):
        ax.text(s + 0.5, -1.5, lab, fontsize=FS, va='center', color='#A00000', zorder=4)
    elif lab:
        ax.text(s + 0.15, -1.5, lab, fontsize=FS, va='center', color=TXT, zorder=2, clip_on=True)

for lab, s, e in zip(PERIOD_LABELS, PERIOD_BOUNDS[:-1], PERIOD_BOUNDS[1:]):
    ax.add_patch(Rectangle((s, -1), e - s, 1, fc=GRAY, ec='black', lw=0.8))
    clipped_text(ax, s + 0.4, -0.5, lab, s, e, -1, 0, fontsize=FS, va='center', color=TXT)

# ---- frame and dividers
ax.vlines(X_LEFT, -4, n_rows, color='black', lw=0.9, clip_on=False)
ax.hlines(n_rows, X_LEFT, X_RIGHT, color='black', lw=0.9, clip_on=False)
ax.vlines(DIVIDERS, 0, n_rows, color=LINE_C, lw=1.3, zorder=2)
ax.plot([FIFTY_YEAR_LINE, FIFTY_YEAR_LINE], [0, n_rows], color=MAGENTA, lw=1.3,
        ls=(0, (3, 3)), zorder=2.5)

# ---- table frame
tx.vlines([0, 24.5, 53.6, 89.5, 126.3], -4, n_rows, color='black', lw=0.8, clip_on=False)
tx.hlines([-4, 0, n_rows], 0, 126.3, color='black', lw=0.8, clip_on=False)
for x, lab, yy in [(2.5, "No.", -3.5), (27.5, "作品", -3.5), (56.5, "初出", -3.5),
                   (92.5, "初出", -3.5), (56.5, "西暦", -0.5), (92.5, "元号", -0.5)]:
    tx.text(x, yy, lab, fontsize=FS, va='center', color=TXT)

# ---- author boxes and works
pending_notes = []
row = 0
for i, name in enumerate(AUTHORS):
    titles = WORK_TITLES[i]
    years = WORK_YEARS[i]
    tones = WORK_TONES[i]
    n = max(1, len(titles))
    died = DIED[i]
    end = died + 1 if died else X_RIGHT
    ax.add_patch(Rectangle((BORN[i], row), end - BORN[i], n,
                           fc=BOX_C if died else LIVE_C, ec=EDGE_C, lw=0.9, zorder=1))
    label = f"{name} ({BORN[i]}-{died if died else ''})"
    ax.text(BORN[i] + 0.4, row + 0.5, label, fontsize=FS, va='center', color=TXT,
            zorder=4, clip_on=True)
    for j, (title, yr) in enumerate(zip(titles, years)):
        r = row + j
        tone = tones[j] if j < len(tones) else 'y'
        ax.add_patch(Rectangle((yr, r + 0.05), 0.75, 0.9, fc=TONE_C[tone], ec='none', zorder=3))
        t = ax.text(yr + 0.2, r + 0.5, title, fontsize=FS, va='center', color=TXT,
                    zorder=4, clip_on=True)
        note = NOTES.get(f"{name}/{title}")
        if note:
            pending_notes.append((t, note, r))
        tx.text(22.5, r + 0.5, str(r + 1), fontsize=FS, va='center', ha='right', color=TXT)
        clipped_text(tx, 25.5, r + 0.5, title, 24.5, 53.6, r, r + 1,
                     fontsize=FS, va='center', color=TXT)
        tx.text(55.5, r + 0.5, str(yr), fontsize=FS, va='center', color=TXT)
        tx.text(91.5, r + 0.5, era_name(yr), fontsize=FS, va='center', color=TXT)
    if not titles:
        tx.text(22.5, row + 0.5, str(row + 1), fontsize=FS, va='center', ha='right', color=TXT)
    row += n

renderer = fig.canvas.get_renderer()
inv = ax.transData.inverted()
for t, note, r in pending_notes:
    bb = t.get_window_extent(renderer=renderer)
    x_note = inv.transform((bb.x1 + 9, bb.y0))[0]
    ax.text(x_note, r + 0.5, note, fontsize=FS, va='center', color=NOTE_C,
            zorder=4, clip_on=True)

# ---- legend
lg = fig.add_axes(fig_rect(824, 109, 958, 262))
lg.set_xlim(0, 134)
lg.set_ylim(153, 0)
lg.axis('off')
lg.add_patch(Rectangle((0, 0), 134, 153, fc=GRAY, ec='none'))
lg.text(70.7, 8, "凡例", fontsize=FS, ha='center', va='center', color=TXT)
legend_items = [(BOX_C, "作家生没"), (TONE_C['y'], "主要作品（青空文庫なし）"),
                (TONE_C['o'], "主要作品（青空文庫あり）"), (TONE_C['r'], "出来事")]
for k, (c, lab) in enumerate(legend_items):
    yc = 32.7 + k * 13.3
    lg.add_patch(Rectangle((11.4, yc - 6.3), 4.9, 12.6, fc=c, ec='none'))
    lg.text(17.5, yc, lab, fontsize=FS, va='center', color=TXT)
lg.text(14, 85.5, "※コメント", fontsize=FS, va='center', color=NOTE_C)
lg.plot([15.2, 15.2], [99, 124], color=MAGENTA, lw=1.3, ls=(0, (3, 3)))
lg.text(20, 111.7, "没後50年経過ライン", fontsize=FS, va='center', color=TXT)
lg.text(20, 124.5, "（2013/6/6現在）", fontsize=FS, va='center', color=TXT)

# ---- titles
fig.text(20 / PX_W, 1 - 24 / PX_H, TITLE, fontsize=FS + 0.2, va='center', color=TXT)
fig.text(1175 / PX_W, 1 - 24 / PX_H, SOURCE, fontsize=FS + 0.2, va='center', ha='right', color=TXT)

# ---- notes below the chart
NOTE_TOP = 6439.4


def draw_column(lines, hx, bx, indent, indent_until=None):
    for k, line in enumerate(lines):
        if not line:
            continue
        ypx = NOTE_TOP + k * row_px
        yf = 1 - ypx / PX_H
        if line.startswith("（"):
            main, _, extra = line.partition("|")
            t = fig.text(hx / PX_W, yf, main, fontsize=FS, va='center', color=HEAD_RED)
            bb = t.get_window_extent(renderer=renderer)
            uy = (bb.y0 - 1.5) / PX_H
            fig.add_artist(Line2D([(bb.x0 - 3) / PX_W, (bb.x1 + 12) / PX_W], [uy, uy],
                                  transform=fig.transFigure, color=HEAD_RED, lw=0.9))
            if extra:
                fig.text((bb.x1 + 20) / PX_W, yf, extra, fontsize=FS, va='center', color=HEAD_RED)
            continue
        if line.startswith("◆"):
            color, x = HEAD_BLUE, bx
        elif line.startswith("＊"):
            color, x = HEAD_GREEN, bx
        elif line.startswith(("主な出来事", "戦後は", "文学の")):
            color, x = TXT, bx
        else:
            color = TXT
            x = bx + (indent if (indent_until is None or k < indent_until) else 0)
        fig.text(x / PX_W, yf, line, fontsize=FS, va='center', color=color)


draw_column(COL1, 20, 26, 5)
draw_column(COL2, 436, 445, 2)
draw_column(COL3, 800, 806, 5, indent_until=47)

fig.savefig('out.png', dpi=100, facecolor='white')
